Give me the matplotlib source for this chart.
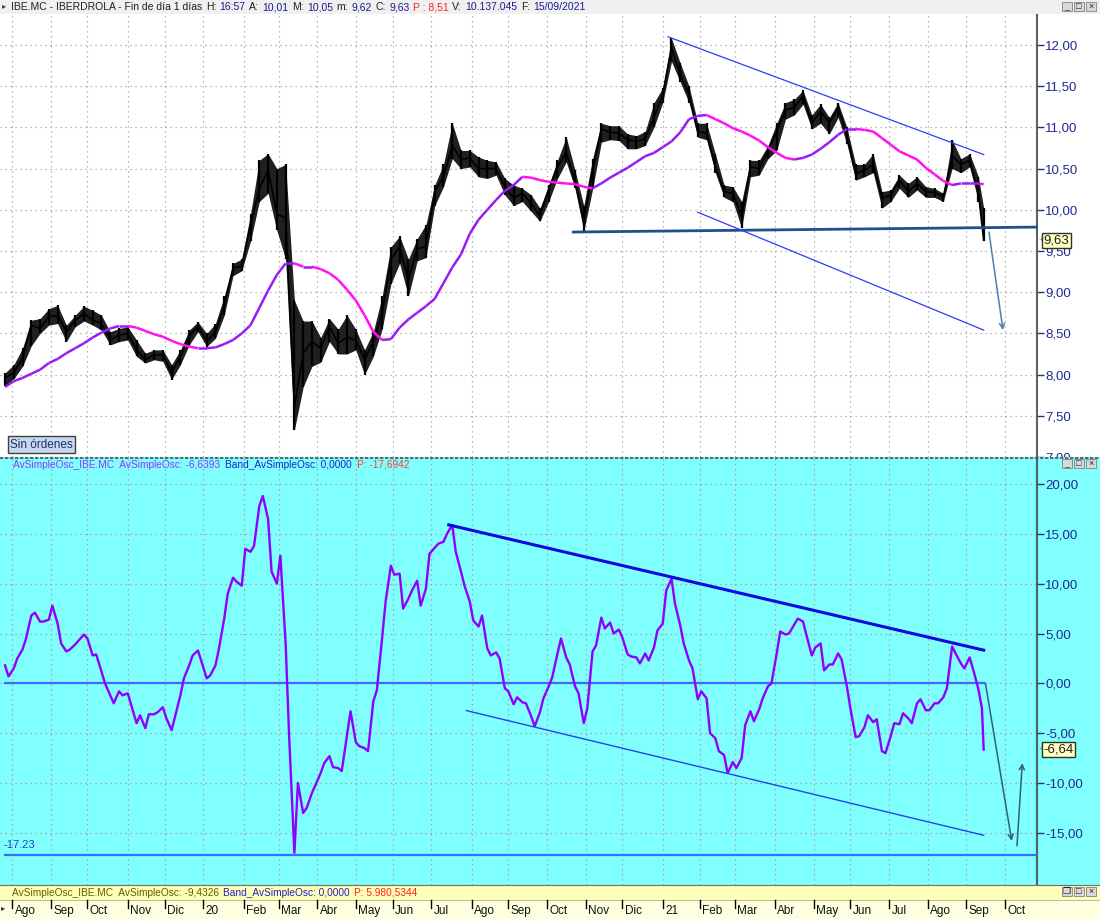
import numpy as np
import pandas as pd
import matplotlib
matplotlib.use('Agg')
import matplotlib.pyplot as plt
from matplotlib.patches import Rectangle
from matplotlib.collections import LineCollection
import matplotlib.transforms as mtrans

plt.rcParams['font.family'] = ['Liberation Sans', 'DejaVu Sans']

# ---------------- data (samples) ----------------
first_week = '2019-07-26'   # first Friday sample
last_date = '2021-09-15'

price_close = [7.96, 8.02, 8.20, 8.60, 8.56, 8.70, 8.72, 8.52, 8.66, 8.74,
               8.66, 8.62, 8.42, 8.48, 8.50, 8.30, 8.18, 8.24, 8.24, 8.02,
               8.22, 8.46, 8.60, 8.40, 8.52, 8.84, 9.29, 9.32, 9.82, 10.26,
               10.48, 9.95, 9.90, 7.60, 8.26, 8.40, 8.32, 8.58, 8.38, 8.45,
               8.42, 8.18, 8.40, 8.74, 9.40, 9.55, 9.15, 9.53, 9.55, 10.22,
               10.40, 10.78, 10.61, 10.63, 10.50, 10.50, 10.50, 10.28, 10.14, 10.20,
               10.08, 9.92, 10.25, 10.52, 10.70, 10.34, 9.86, 10.48, 10.98, 10.94,
               10.93, 10.85, 10.83, 10.86, 11.12, 11.40, 11.96, 11.64, 11.40, 10.95,
               10.93, 10.52, 10.22, 10.20, 9.92, 10.52, 10.50, 10.72, 10.95, 11.21,
               11.24, 11.38, 11.05, 11.20, 11.05, 11.24, 10.90, 10.44, 10.48, 10.55,
               10.14, 10.18, 10.36, 10.22, 10.32, 10.22, 10.21, 10.16, 10.65, 10.55,
               10.60, 10.20, 9.63]

price_high = [8.02, 8.12, 8.32, 8.66, 8.68, 8.80, 8.84, 8.60, 8.72, 8.83,
              8.78, 8.72, 8.52, 8.56, 8.58, 8.42, 8.26, 8.30, 8.30, 8.12,
              8.30, 8.54, 8.64, 8.50, 8.62, 8.95, 9.35, 9.40, 9.95, 10.60,
              10.68, 10.50, 10.55, 8.90, 8.65, 8.65, 8.45, 8.68, 8.55, 8.72,
              8.55, 8.30, 8.52, 8.95, 9.55, 9.68, 9.40, 9.65, 9.82, 10.30,
              10.55, 11.05, 10.72, 10.72, 10.64, 10.60, 10.58, 10.38, 10.30, 10.26,
              10.18, 10.02, 10.30, 10.60, 10.88, 10.48, 10.05, 10.62, 11.05, 11.02,
              11.02, 10.92, 10.90, 10.95, 11.30, 11.48, 12.08, 11.78, 11.50, 11.05,
              11.05, 10.68, 10.30, 10.28, 10.10, 10.60, 10.60, 10.78, 11.05, 11.30,
              11.34, 11.45, 11.15, 11.28, 11.12, 11.30, 11.00, 10.55, 10.55, 10.68,
              10.22, 10.24, 10.42, 10.32, 10.40, 10.28, 10.26, 10.20, 10.85, 10.62,
              10.68, 10.40, 10.02]

price_low = [7.86, 7.95, 8.10, 8.35, 8.50, 8.60, 8.62, 8.40, 8.58, 8.65,
             8.60, 8.54, 8.36, 8.40, 8.42, 8.22, 8.14, 8.18, 8.16, 7.94,
             8.12, 8.36, 8.52, 8.34, 8.44, 8.72, 9.20, 9.26, 9.62, 10.10,
             10.20, 9.75, 9.40, 7.33, 7.85, 8.10, 8.15, 8.40, 8.25, 8.25,
             8.30, 8.00, 8.22, 8.55, 9.10, 9.35, 8.95, 9.38, 9.42, 10.05,
             10.28, 10.62, 10.50, 10.52, 10.40, 10.38, 10.42, 10.18, 10.05, 10.10,
             9.98, 9.86, 10.10, 10.38, 10.58, 10.26, 9.74, 10.25, 10.82, 10.85,
             10.84, 10.74, 10.74, 10.78, 11.00, 11.30, 11.80, 11.55, 11.30, 10.88,
             10.85, 10.45, 10.15, 10.10, 9.78, 10.40, 10.42, 10.62, 10.72, 11.10,
             11.15, 11.28, 10.98, 11.05, 10.92, 11.12, 10.80, 10.36, 10.40, 10.45,
             10.02, 10.10, 10.26, 10.15, 10.24, 10.15, 10.15, 10.10, 10.50, 10.45,
             10.52, 10.10, 9.62]

price_ma = [7.85, 7.92, 7.96, 8.01, 8.06, 8.14, 8.19, 8.26, 8.32, 8.38,
            8.45, 8.51, 8.56, 8.59, 8.59, 8.57, 8.53, 8.49, 8.46, 8.41,
            8.37, 8.34, 8.32, 8.32, 8.33, 8.37, 8.42, 8.50, 8.60, 8.81,
            9.02, 9.21, 9.35, 9.35, 9.31, 9.31, 9.28, 9.23, 9.15, 9.03,
            8.90, 8.72, 8.52, 8.42, 8.43, 8.57, 8.67, 8.75, 8.83, 8.92,
            9.11, 9.30, 9.46, 9.71, 9.88, 10.00, 10.12, 10.23, 10.30, 10.40,
            10.39, 10.36, 10.34, 10.33, 10.32, 10.31, 10.28, 10.26, 10.32, 10.39,
            10.45, 10.51, 10.58, 10.65, 10.69, 10.76, 10.83, 10.94, 11.10, 11.14,
            11.15, 11.10, 11.05, 10.99, 10.95, 10.90, 10.84, 10.76, 10.69, 10.63,
            10.61, 10.63, 10.67, 10.74, 10.82, 10.91, 10.98, 10.98, 10.97, 10.95,
            10.87, 10.79, 10.71, 10.66, 10.61, 10.51, 10.43, 10.35, 10.30, 10.32,
            10.32, 10.32, 10.31]

# oscillator: Friday and following-Tuesday samples
osc_friday = [1.8, 1.5, 3.4, 6.8, 6.2, 6.4, 6.0, 3.2, 3.9, 4.9,
              2.8, 1.2, -1.2, -0.8, -1.0, -4.0, -4.5, -3.1, -2.4, -4.7,
              -1.2, 1.8, 3.3, 0.5, 1.8, 6.5, 10.6, 9.8, 13.2, 17.8,
              16.5, 10.0, 4.0, -17.0, -13.0, -11.0, -9.0, -7.3, -8.5, -5.2,
              -5.9, -6.5, -1.8, 4.5, 11.8, 11.0, 8.5, 10.3, 9.5, 13.6,
              14.2, 15.9, 11.2, 8.2, 5.7, 3.5, 3.1, -0.5, -2.1, -1.9,
              -3.3, -2.9, -0.3, 3.0, 2.6, -0.3, -4.0, 3.2, 6.6, 6.1,
              5.4, 2.9, 2.6, 3.0, 3.6, 6.0, 10.5, 5.8, 2.3, -1.6,
              -1.5, -5.5, -7.2, -7.9, -7.5, -2.8, -2.6, -0.3, 3.0, 4.9,
              5.9, 6.2, 2.8, 4.0, 1.9, 3.0, -0.3, -5.4, -4.4, -3.9,
              -6.8, -5.3, -4.1, -3.5, -2.0, -2.7, -2.0, -1.4, 3.7, 2.0,
              2.6, -0.6]

osc_tuesday = [0.7, 2.5, 4.5, 7.1, 6.2, 7.8, 4.0, 3.4, 4.3, 4.5,
               2.9, 0.0, -2.0, -1.2, -2.2, -3.2, -3.1, -2.9, -3.5, -3.3,
               0.5, 2.8, 2.2, 0.8, 3.5, 9.0, 10.2, 13.5, 13.8, 18.8,
               11.2, 12.8, -5.3, -10.0, -12.5, -10.2, -8.0, -8.4, -8.8, -2.8,
               -6.3, -6.8, -0.7, 8.2, 10.9, 7.5, 9.3, 7.8, 13.0, 14.0,
               15.0, 13.2, 9.8, 6.3, 6.8, 2.8, 2.5, -0.8, -1.4, -2.0,
               -4.3, -1.5, 0.6, 4.5, 1.9, -1.0, -2.5, 3.8, 5.5, 5.0,
               4.6, 2.7, 2.0, 2.3, 5.3, 9.3, 8.0, 4.0, 1.5, -0.8,
               -5.0, -6.8, -9.0, -8.5, -4.2, -3.8, -1.5, 0.0, 5.2, 5.0,
               6.5, 4.8, 3.6, 1.3, 1.9, 2.4, -2.5, -5.3, -3.2, -3.6,
               -7.0, -4.0, -3.0, -4.0, -1.6, -2.7, -2.0, -0.5, 3.0, 1.5,
               1.4, -2.5]

last_price, last_osc = 9.63, -6.64
band_level, min_level = 0.0, -17.23

month_names = ['20', 'Feb', 'Mar', 'Abr', 'May', 'Jun', 'Jul', 'Ago', 'Sep', 'Oct', 'Nov', 'Dic']
price_ticks = [7.0, 7.5, 8.0, 8.5, 9.0, 9.5, 10.0, 10.5, 11.0, 11.5, 12.0]
osc_ticks = [-15, -10, -5, 0, 5, 10, 15, 20]

# drawn study lines: (date, value) endpoints
support_line = [('2020-10-22', 9.73), ('2021-10-27', 9.79)]
upper_channel = [('2021-01-06', 12.10), ('2021-09-15', 10.67)]
lower_channel = [('2021-01-29', 9.97), ('2021-09-15', 8.54)]
price_arrow = [('2021-09-20', 9.73), ('2021-09-30', 8.54)]
osc_upper = [('2020-07-15', 15.9), ('2021-09-15', 3.33)]
osc_lower = [('2020-07-29', -2.73), ('2021-09-15', -15.24)]
osc_arrow_down = [('2021-09-16', 0.0), ('2021-10-07', -15.8)]
osc_arrow_up = [('2021-10-12', -16.3), ('2021-10-15', -8.0)]

# ---------------- layout helpers ----------------
W, H = 1100, 919
fig = plt.figure(figsize=(11, 9.19), dpi=100)
fig.patch.set_facecolor('white')

def fx(px):
    return px / W

def fy(py):
    return 1 - py / H

bdays = pd.bdate_range('2019-07-26', '2021-12-31')

def xpos(d):
    return float(np.searchsorted(bdays.values, np.datetime64(pd.Timestamp(d))))

fridays = list(pd.date_range(first_week, periods=len(osc_friday), freq='7D'))
dates = fridays + [pd.Timestamp(last_date)]
xs = np.array([xpos(d) for d in dates])

osc_dates, osc_vals = [], []
for d, vf, vt in zip(fridays, osc_friday, osc_tuesday):
    osc_dates += [d, d + pd.Timedelta(days=4)]
    osc_vals += [vf, vt]
osc_dates.append(pd.Timestamp(last_date))
osc_vals.append(last_osc)
oxs = np.array([xpos(d) for d in osc_dates])

months = pd.date_range('2019-08-01', '2021-10-01', freq='MS')
month_pos = [xpos(bdays[bdays >= m][0]) for m in months]
month_lab = [month_names[m.month - 1] if m.month != 1 else str(m.year)[2:] for m in months]

XLIM = (-2.85, 588.4)
RIGHT = 1037
NAVY = '#1E2A8E'
GRID = dict(color='#A0A0A0', linestyle=(0, (1, 3)), linewidth=0.9)

# ---------------- top panel ----------------
ax = fig.add_axes([0, fy(457), fx(RIGHT), (457 - 14) / H])
ax.set_facecolor('white')
ax.set_xlim(*XLIM)
ax.set_ylim(7.0, 12.376)
ax.set_xticks(month_pos)
ax.tick_params(axis='x', length=0, labelbottom=False)
ax.yaxis.tick_right()
ax.set_yticks(price_ticks)
ax.set_yticklabels([f'{v:.2f}'.replace('.', ',') for v in price_ticks])
ax.tick_params(axis='y', length=5, width=1, color='#303070', labelcolor=NAVY, labelsize=9.5, pad=1)
ax.grid(True, **GRID)
for s in ['left', 'top', 'bottom']:
    ax.spines[s].set_visible(False)
ax.spines['right'].set_color('#606060')
ax.spines['right'].set_linewidth(1.5)
clipbox = mtrans.TransformedBbox(mtrans.Bbox([[0, fy(457)], [1, 1]]), fig.transFigure)
for lab in ax.get_yticklabels():
    lab.set_clip_box(clipbox)
    lab.set_clip_on(True)

ax.fill_between(xs, price_low, price_high, color='#202020', lw=0, zorder=4)
ax.vlines(xs, price_low, price_high, color='black', lw=1.6, zorder=4)
ax.plot(xs, price_close, color='black', lw=1.2, zorder=4)

pts = np.column_stack([xs, price_ma])
segs = np.stack([pts[:-1], pts[1:]], axis=1)
cols = ['#9A1CF5' if b >= a else '#FF10F0' for a, b in zip(price_ma[:-1], price_ma[1:])]
ax.add_collection(LineCollection(segs, colors=cols, linewidths=1.8, zorder=5))

def line(axh, seg, **kw):
    (d0, v0), (d1, v1) = seg
    axh.plot([xpos(d0), xpos(d1)], [v0, v1], **kw)

def arrow(axh, seg, color):
    (d0, v0), (d1, v1) = seg
    axh.annotate('', xy=(xpos(d1), v1), xytext=(xpos(d0), v0),
                 arrowprops=dict(arrowstyle='->', color=color, lw=1.1, mutation_scale=9,
                                 shrinkA=0, shrinkB=0), zorder=6)

line(ax, support_line, color='#1F4F8C', lw=2.0, zorder=6, clip_on=False)
line(ax, upper_channel, color='#2B3CFF', lw=0.9, zorder=6)
line(ax, lower_channel, color='#2B3CFF', lw=0.9, zorder=6)
arrow(ax, price_arrow, '#4A7FB5')

bt = mtrans.blended_transform_factory(ax.transAxes, ax.transData)
ax.text(1 + 6.5 / RIGHT, last_price, f'{last_price:.2f}'.replace('.', ','), transform=bt,
        ha='left', va='center', fontsize=9.5, color='#202020', zorder=10, clip_on=False,
        bbox=dict(boxstyle='square,pad=0.12', fc='#FFFFC0', ec='#303030', lw=1))
ax.text(1 + 1.5 / RIGHT, last_price, '+', transform=bt, ha='left', va='center', fontsize=6,
        color='#808080', clip_on=False)

ax.text(10 / RIGHT, 7.15, 'Sin órdenes', transform=bt, ha='left', va='center',
        fontsize=8.5, color='#203060', zorder=10,
        bbox=dict(boxstyle='square,pad=0.2', fc='#C8D8F0', ec='#404040', lw=1))

# ---------------- bottom panel ----------------
CYAN = '#80FFFF'
ax2 = fig.add_axes([0, fy(885), fx(RIGHT), (885 - 457) / H])
ax2.set_facecolor(CYAN)
ax2.add_patch(Rectangle((1, 0), (W - RIGHT) / RIGHT + 0.001, 1, transform=ax2.transAxes,
                        fc=CYAN, ec='none', clip_on=False, zorder=-10))
ax2.set_xlim(*XLIM)
ax2.set_ylim(-20.23, 22.71)
ax2.set_xticks(month_pos)
ax2.tick_params(axis='x', length=0, labelbottom=False)
ax2.yaxis.tick_right()
ax2.set_yticks(osc_ticks)
ax2.set_yticklabels([f'{v:.2f}'.replace('.', ',') for v in osc_ticks])
ax2.tick_params(axis='y', length=5, width=1, color='#303070', labelcolor=NAVY, labelsize=9.5, pad=1)
ax2.grid(True, color='#B09090', linestyle=(0, (1, 3)), linewidth=0.9)
for s in ['left', 'top', 'bottom']:
    ax2.spines[s].set_visible(False)
ax2.spines['right'].set_color('#506060')
ax2.spines['right'].set_linewidth(1.5)

ax2.plot([xs[0], xs[-1]], [band_level, band_level], color='#3A6BFF', lw=1.6, zorder=3)
ax2.plot([xs[0], XLIM[1]], [min_level, min_level], color='#3A6BFF', lw=1.6, zorder=3)
ax2.text(xs[0] - 1, min_level + 0.5, f'{min_level:.2f}', ha='left', va='bottom', fontsize=8,
         color='#2040C0')
ax2.plot(oxs, osc_vals, color='#8F00FF', lw=1.7, zorder=4)
line(ax2, osc_upper, color='#0A0AE0', lw=2.2, zorder=5)
line(ax2, osc_lower, color='#2244EE', lw=1.0, zorder=5)
arrow(ax2, osc_arrow_down, '#2F5F80')
arrow(ax2, osc_arrow_up, '#2F5F80')

bt2 = mtrans.blended_transform_factory(ax2.transAxes, ax2.transData)
ax2.text(1 + 6.5 / RIGHT, last_osc, f'{last_osc:.2f}'.replace('.', ','), transform=bt2,
         ha='left', va='center', fontsize=9.5, color='#202020', zorder=10, clip_on=False,
         bbox=dict(boxstyle='square,pad=0.12', fc='#FFFFC0', ec='#303030', lw=1))
ax2.text(1 + 1.5 / RIGHT, last_osc, '+', transform=bt2, ha='left', va='center', fontsize=6,
         color='#808080', clip_on=False)

# ---------------- figure decorations ----------------
def frect(x0, y0, x1, y1, fc, ec='none', lw=0, z=1):
    fig.patches.append(Rectangle((fx(x0), fy(y1)), (x1 - x0) / W, (y1 - y0) / H,
                                 transform=fig.transFigure, fc=fc, ec=ec, lw=lw, zorder=z))

frect(0, 0, W, 14, '#F0F0F0')
frect(0, 885, W, 900, '#FFFFB8')
frect(0, 900, W, H, '#FFFFE0')
fig.add_artist(plt.Line2D([0, 1], [fy(457.5), fy(457.5)], transform=fig.transFigure,
                          color='#505050', lw=1.2, linestyle=(0, (2, 1)), zorder=5))
fig.add_artist(plt.Line2D([0, 1], [fy(885), fy(885)], transform=fig.transFigure,
                          color='#707070', lw=0.8, zorder=5))
fig.add_artist(plt.Line2D([0, 1], [fy(900), fy(900)], transform=fig.transFigure,
                          color='#C0C0A0', lw=0.8, zorder=5))

renderer = fig.canvas.get_renderer()

def seq_text(x0, ypx, pieces, size, gap=4):
    x = x0
    for s, c in pieces:
        t = fig.text(fx(x), fy(ypx), s, color=c, fontsize=size, ha='left', va='center', zorder=8)
        x += t.get_window_extent(renderer).width + gap

DARK = '#202020'
BLUE_V = '#1A1A90'
seq_text(11, 7, [('IBE.MC - IBERDROLA - Fin de día 1 días', DARK), ('H:', DARK), ('16:57', BLUE_V),
                 ('A:', DARK), ('10,01', BLUE_V), ('M:', DARK), ('10,05', BLUE_V),
                 ('m:', DARK), ('9,62', BLUE_V), ('C:', DARK), ('9,63', BLUE_V),
                 ('P : 8,51', '#FF2020'), ('V:', DARK), ('10.137.045', BLUE_V),
                 ('F:', DARK), ('15/09/2021', BLUE_V)], 7.5, gap=3.5)
fig.text(fx(2), fy(7), '▸', fontsize=6, color='#404040', ha='left', va='center')

seq_text(13, 464.5, [('AvSimpleOsc_IBE.MC  AvSimpleOsc: -6,6393', '#9933FF'),
                     ('Band_AvSimpleOsc: 0,0000', '#2222CC'),
                     ('P: -17,6942', '#FF4040')], 7.3, gap=5)
seq_text(12, 892.5, [('AvSimpleOsc_IBE.MC  AvSimpleOsc: -9,4326', '#606000'),
                     ('Band_AvSimpleOsc: 0,0000', '#2222CC'),
                     ('P: 5.980,5344', '#FF2020')], 7.3, gap=4)

def buttons(ypx, glyphs):
    for i, g in enumerate(glyphs):
        x0 = 1062 + 12 * i
        frect(x0, ypx, x0 + 10, ypx + 9, '#D8D8D8', ec='#808080', lw=0.6, z=6)
        fig.text(fx(x0 + 5), fy(ypx + 4.5), g, fontsize=6.5, ha='center', va='center',
                 color='#202020', zorder=9)

buttons(2, ['_', '□', '×'])
buttons(459, ['_', '□', '×'])
buttons(887, ['❐', '□', '×'])

# x axis strip
scale = RIGHT / (XLIM[1] - XLIM[0])
for p, lab in zip(month_pos, month_lab):
    px = (p - XLIM[0]) * scale
    fig.add_artist(plt.Line2D([fx(px), fx(px)], [fy(900), fy(908)], transform=fig.transFigure,
                              color='black', lw=1, zorder=7))
    fig.text(fx(px + 2.5), fy(911), lab, fontsize=8.5, color='#101010', ha='left', va='center', zorder=8)
fig.text(fx(1), fy(909), '▸', fontsize=6, color='#303030', ha='left', va='center', zorder=8)

fig.savefig('out.png', dpi=100)
